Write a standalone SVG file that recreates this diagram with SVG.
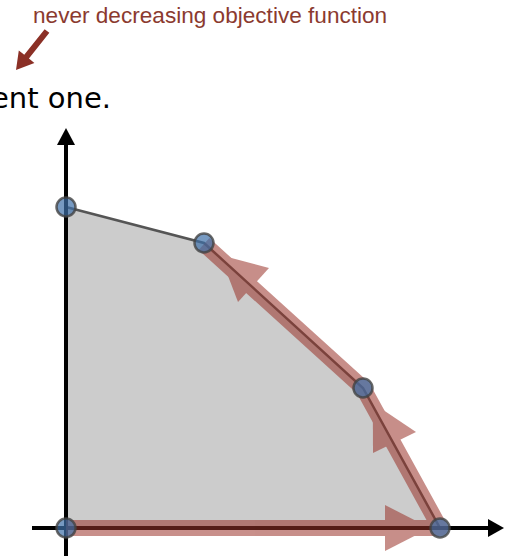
<svg xmlns="http://www.w3.org/2000/svg" width="505" height="556" viewBox="0 0 505 556">
<defs>
<style>
.lbl{font-family:"Liberation Sans",Arial,sans-serif;font-size:22.6px;fill:#8b3a2f}
.body{font-family:"DejaVu Sans","Lucida Grande",sans-serif;font-size:29px;fill:#000}
.axis{stroke:#000;stroke-width:4;fill:none}
.edge{stroke:#555;stroke-width:2.5;fill:none}
.vtx{fill:#3d6fa8;fill-opacity:0.7;stroke:#444;stroke-opacity:0.8;stroke-width:2.5}
</style>
</defs>
<rect width="505" height="556" fill="#fff"/>
<g id="caption">
<text class="lbl" x="33" y="23">never decreasing objective function</text>
<path d="M44.65,29.13 L24.25,54.83 L18.8,50.5 L16,70 L34.4,62.9 L28.95,58.57 L49.35,32.87 Z" fill="#8b3026"/>
</g>
<text class="body" x="111" y="108" text-anchor="end">ent one.</text>
<g id="region">
<polygon points="66,207 204,243 363,388 440,528 66,528" fill="#cccccc"/>
<polyline class="edge" points="66,207 204,243 363,388 440,528"/>
</g>
<g id="axes">
<line class="axis" x1="66" y1="556" x2="66" y2="142"/>
<polygon points="66,128 57,145 75,145" fill="#000"/>
<line class="axis" x1="32" y1="528" x2="490" y2="528"/>
<polygon points="504,528 488,519 488,537" fill="#000"/>
</g>
<g id="connectors" opacity="0.55">
<polyline points="66,528 440,528 363,388 204,244" fill="none" stroke="#9a3329" stroke-width="16" stroke-linejoin="round"/>
<polygon points="430,528 385,505 385,551" fill="#9a3329"/>
<polygon points="372.8,403 373,453 416,432" fill="#9a3329"/>
<polygon points="220,255 238,302 269,268" fill="#9a3329"/>
</g>
<g id="v1"><circle class="vtx" cx="66" cy="207" r="9.5"/></g>
<g id="v2"><circle class="vtx" cx="204" cy="243" r="9.5"/></g>
<g id="v3"><circle class="vtx" cx="363" cy="388" r="9.5"/></g>
<g id="v4"><circle class="vtx" cx="440" cy="528" r="9.5"/></g>
<g id="v5"><circle class="vtx" cx="66" cy="528" r="9.5"/></g>
</svg>
